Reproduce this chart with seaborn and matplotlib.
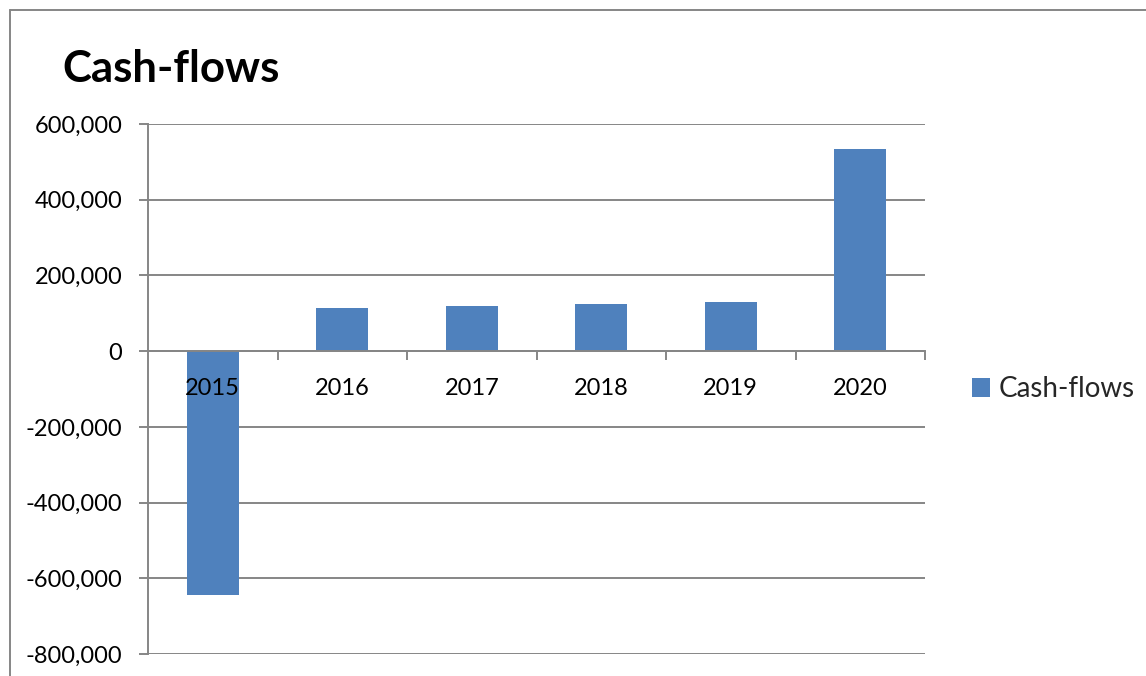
import matplotlib
matplotlib.use("Agg")
import matplotlib.pyplot as plt
import matplotlib.ticker as mticker
from matplotlib.lines import Line2D
from matplotlib.patches import Rectangle
import seaborn as sns
import pandas as pd

years = ["2015", "2016", "2017", "2018", "2019", "2020"]
cash_flows = [-643000, 114500, 119000, 123500, 130500, 534000]
series_name = "Cash-flows"
title = "Cash-flows"
y_ticks = [-800000, -600000, -400000, -200000, 0, 200000, 400000, 600000]

sns.set_theme(style="white")
plt.rcParams["font.family"] = ["Lato", "DejaVu Sans"]

BAR = "#4F81BD"
GRID = "#868686"
LW = 1.4

df = pd.DataFrame({"Year": years, "Value": cash_flows})

fig = plt.figure(figsize=(11.46, 6.76), dpi=100)
ax = fig.add_axes([148 / 1146, 1 - 654 / 676, (925 - 148) / 1146, (654 - 124) / 676])

sns.barplot(data=df, x="Year", y="Value", color=BAR, width=0.4, saturation=1,
            ax=ax, zorder=1, linewidth=0)

ax.set_axisbelow(False)  # tick labels drawn above the bars
ax.set_xlim(-0.5, len(years) - 0.5)
ax.set_ylim(y_ticks[0], y_ticks[-1])
ax.set_yticks(y_ticks)
ax.yaxis.set_major_formatter(mticker.FuncFormatter(lambda v, p: f"{v:,.0f}"))
# horizontal gridlines beneath the bars
for v in y_ticks:
    ax.axhline(v, color=GRID, linewidth=LW, zorder=0.5)

# x: labels at categories, ticks at boundaries
ax.set_xticks([i + 0.5 for i in range(len(years))])
ax.set_xticklabels([])
ax.set_xticks(range(len(years)), minor=True)
ax.set_xticklabels(years, minor=True)
ax.tick_params(axis="x", which="major", direction="out", length=6.5, width=LW,
               color=GRID, bottom=True)
ax.tick_params(axis="x", which="minor", length=0, pad=19, labelsize=17, labelcolor="black")
ax.tick_params(axis="y", direction="out", length=6.5, width=LW, color=GRID, left=True,
               labelsize=17, labelcolor="black", pad=12)

ax.spines["bottom"].set_position(("data", 0))
ax.spines["bottom"].set_color(GRID)
ax.spines["bottom"].set_linewidth(LW)
ax.spines["left"].set_color(GRID)
ax.spines["left"].set_linewidth(LW)
ax.spines["top"].set_visible(False)
ax.spines["right"].set_visible(False)
ax.set_xlabel("")
ax.set_ylabel("")

fig.text(62 / 1146, 1 - 82 / 676, title, fontsize=31.5, fontweight="bold",
         ha="left", va="baseline", color="black")

handle = Rectangle((0, 0), 1, 1, facecolor=BAR, edgecolor="none")
fig.legend([handle], [series_name], loc="center left",
           bbox_to_anchor=(947 / 1146, 1 - 389 / 676), frameon=False,
           fontsize=20, handlelength=0.65, handleheight=0.65, handletextpad=0.3)

# chart frame (top and left edges visible)
fig.add_artist(Line2D([10 / 1146, 1], [1 - 10 / 676, 1 - 10 / 676], color=GRID, lw=LW,
                      transform=fig.transFigure))
fig.add_artist(Line2D([10 / 1146, 10 / 1146], [0, 1 - 10 / 676], color=GRID, lw=LW,
                      transform=fig.transFigure))

fig.savefig("out.png", dpi=100, facecolor="white")
